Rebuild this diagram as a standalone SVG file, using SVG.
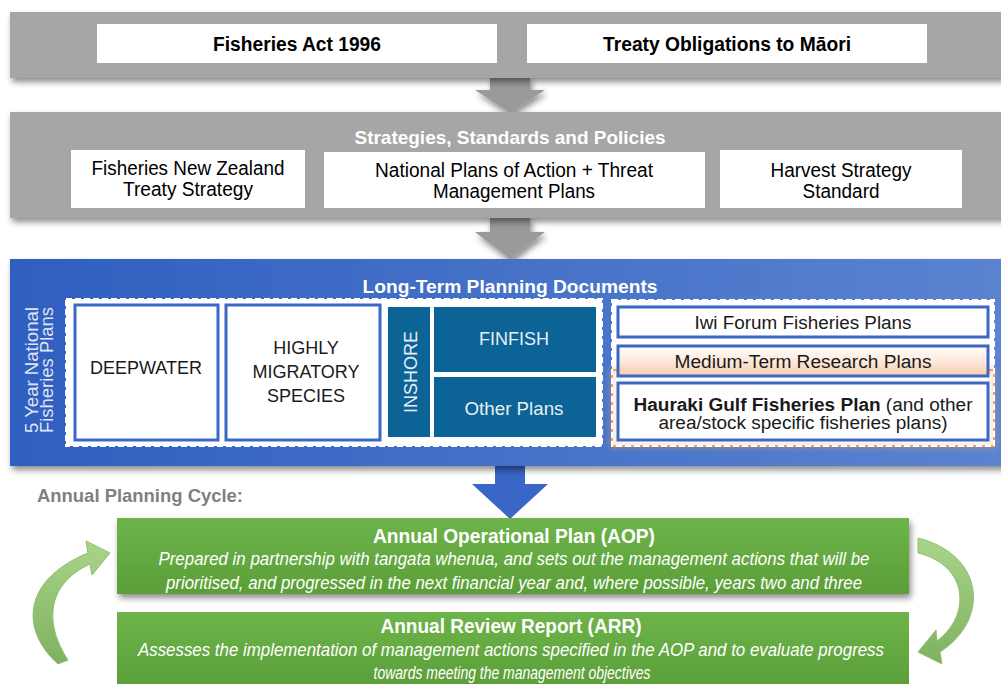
<svg xmlns="http://www.w3.org/2000/svg" width="1001" height="684" viewBox="0 0 1001 684">
<defs>
<filter id="sh" x="-5%" y="-20%" width="110%" height="150%"><feDropShadow dx="2" dy="4" stdDeviation="3" flood-color="#000" flood-opacity="0.45"/></filter>
<filter id="glow" x="-10%" y="-30%" width="120%" height="160%"><feDropShadow dx="0" dy="0" stdDeviation="3" flood-color="#f4a460" flood-opacity="0.9"/></filter>
<linearGradient id="blueG" x1="0" y1="0" x2="1" y2="0"><stop offset="0" stop-color="#2f5fc0"/><stop offset="1" stop-color="#5b83d0"/></linearGradient>
<linearGradient id="greenG" x1="0" y1="0" x2="0" y2="1"><stop offset="0" stop-color="#6db44a"/><stop offset="1" stop-color="#5b9e38"/></linearGradient>
<linearGradient id="peach" x1="0" y1="0" x2="0" y2="1"><stop offset="0" stop-color="#ffffff"/><stop offset="0.5" stop-color="#fde9dc"/><stop offset="1" stop-color="#f8c9a8"/></linearGradient>
<linearGradient id="curveG" x1="0" y1="0" x2="0" y2="1"><stop offset="0" stop-color="#a9d58a"/><stop offset="1" stop-color="#7fb060"/></linearGradient>
<style>
.t{font-family:"Liberation Sans",Arial,sans-serif;}
.wb{fill:#fff;}
.bb{fill:#fff;stroke:#3b68c4;stroke-width:3;}
.dash{fill:#fff;stroke:#fff;stroke-width:2;stroke-dasharray:6 3;}
.teal{fill:#0b6396;}
.gband{fill:#a6a6a6;}
</style>
</defs>

<g id="connectors">
<path id="arrow1" d="M490,76 H530 V90 H545 L510,113 L475,90 H490 Z" fill="#9a9a9a" filter="url(#sh)"/>
<path id="arrow2" d="M490,216 H530 V232 H545 L510,259 L475,232 H490 Z" fill="#9a9a9a" filter="url(#sh)"/>
<path id="arrow3" d="M495,464 H525 V484 H548 L510,519 L472,484 H495 Z" fill="#3a66c8"/>
<path id="cycleLeft" d="M58,664 C20,630 22,580 88,553 L86,541 L110,553 L92,575 L90,564 C45,585 45,625 68,660 Z" fill="url(#curveG)" stroke="#8fbf70" stroke-width="1"/>
<path id="cycleRight" d="M918,538 C985,555 990,620 940,652 L942,664 L918,652 L936,630 L937,641 C972,615 968,565 918,553 Z" fill="url(#curveG)" stroke="#8fbf70" stroke-width="1"/>
</g>

<g id="band-legislation">
<rect x="10" y="12" width="995" height="66" class="gband" filter="url(#sh)"/>
<g id="node-fisheries-act"><rect x="97" y="24" width="400" height="39" class="wb"/>
<text x="297" y="51" text-anchor="middle" class="t" font-size="20" font-weight="bold" textLength="168" lengthAdjust="spacingAndGlyphs">Fisheries Act 1996</text></g>
<g id="node-treaty"><rect x="527" y="24" width="400" height="39" class="wb"/>
<text x="727" y="51" text-anchor="middle" class="t" font-size="20" font-weight="bold" textLength="248" lengthAdjust="spacingAndGlyphs">Treaty Obligations to Māori</text></g>
</g>

<g id="band-strategies">
<rect x="10" y="112" width="995" height="106" class="gband" filter="url(#sh)"/>
<text x="510" y="144" text-anchor="middle" class="t" font-size="19" font-weight="bold" fill="#fff" textLength="311" lengthAdjust="spacingAndGlyphs">Strategies, Standards and Policies</text>
<g id="node-fnz-treaty"><rect x="71" y="150" width="234" height="58" class="wb"/>
<text x="188" y="175" text-anchor="middle" class="t" font-size="20" textLength="193" lengthAdjust="spacingAndGlyphs">Fisheries New Zealand</text>
<text x="188" y="196" text-anchor="middle" class="t" font-size="20" textLength="130" lengthAdjust="spacingAndGlyphs">Treaty Strategy</text></g>
<g id="node-npoa"><rect x="324" y="152" width="381" height="56" class="wb"/>
<text x="514" y="177" text-anchor="middle" class="t" font-size="20" textLength="278" lengthAdjust="spacingAndGlyphs">National Plans of Action + Threat</text>
<text x="514" y="198" text-anchor="middle" class="t" font-size="20" textLength="162" lengthAdjust="spacingAndGlyphs">Management Plans</text></g>
<g id="node-harvest"><rect x="720" y="150" width="242" height="58" class="wb"/>
<text x="841" y="177" text-anchor="middle" class="t" font-size="20" textLength="141" lengthAdjust="spacingAndGlyphs">Harvest Strategy</text>
<text x="841" y="198" text-anchor="middle" class="t" font-size="20" textLength="77" lengthAdjust="spacingAndGlyphs">Standard</text></g>
</g>

<g id="band-longterm">
<rect x="10" y="259" width="995" height="207" fill="url(#blueG)" filter="url(#sh)"/>
<text x="510" y="293" text-anchor="middle" class="t" font-size="19" font-weight="bold" fill="#fff" textLength="295" lengthAdjust="spacingAndGlyphs">Long-Term Planning Documents</text>
<text transform="translate(38,370) rotate(-90)" text-anchor="middle" class="t" font-size="18" fill="#fff" fill-opacity="0.85" textLength="126" lengthAdjust="spacingAndGlyphs">5 Year National</text>
<text transform="translate(53,370) rotate(-90)" text-anchor="middle" class="t" font-size="18" fill="#fff" fill-opacity="0.85" textLength="126" lengthAdjust="spacingAndGlyphs">Fisheries Plans</text>
<rect x="66" y="299" width="536" height="147" class="dash"/>
<g id="node-deepwater"><rect x="75" y="305" width="143" height="135" class="bb"/>
<text x="146" y="374" text-anchor="middle" class="t" font-size="18" fill="#1a1a1a">DEEPWATER</text></g>
<g id="node-hms"><rect x="226" y="305" width="154" height="135" class="bb"/>
<text x="306" y="354" text-anchor="middle" class="t" font-size="18" fill="#1a1a1a">HIGHLY</text>
<text x="306" y="378" text-anchor="middle" class="t" font-size="18" fill="#1a1a1a">MIGRATORY</text>
<text x="306" y="402" text-anchor="middle" class="t" font-size="18" fill="#1a1a1a">SPECIES</text></g>
<g id="node-inshore"><rect x="388" y="307" width="42" height="130" class="teal"/>
<text transform="translate(417,372) rotate(-90)" text-anchor="middle" class="t" font-size="18" fill="#e8eef5">INSHORE</text></g>
<g id="node-finfish"><rect x="434" y="307" width="162" height="65" class="teal"/>
<text x="514" y="345" text-anchor="middle" class="t" font-size="18" fill="#e8eef5">FINFISH</text></g>
<g id="node-other"><rect x="434" y="377" width="162" height="60" class="teal"/>
<text x="514" y="415" text-anchor="middle" class="t" font-size="19" fill="#e8eef5" textLength="99" lengthAdjust="spacingAndGlyphs">Other Plans</text></g>
<rect x="612" y="300" width="382" height="146" class="dash"/>
<rect x="612" y="370" width="382" height="76" fill="none" stroke="#f4a460" stroke-width="2" filter="url(#glow)"/>
<rect x="612" y="300" width="382" height="146" fill="none" stroke="#fff" stroke-width="2" stroke-dasharray="6 3"/>
<g id="node-iwi"><rect x="618" y="307" width="370" height="30" class="bb"/>
<text x="803" y="329" text-anchor="middle" class="t" font-size="18" fill="#1a1a1a" textLength="217" lengthAdjust="spacingAndGlyphs">Iwi Forum Fisheries Plans</text></g>
<g id="node-mtrp"><rect x="618" y="346" width="370" height="30" fill="url(#peach)" stroke="#3b68c4" stroke-width="3"/>
<text x="803" y="368" text-anchor="middle" class="t" font-size="18" fill="#1a1a1a" textLength="257" lengthAdjust="spacingAndGlyphs">Medium-Term Research Plans</text></g>
<g id="node-hauraki"><rect x="618" y="383" width="370" height="57" class="bb"/>
<text x="803" y="411" text-anchor="middle" class="t" font-size="18" fill="#1a1a1a" textLength="339" lengthAdjust="spacingAndGlyphs"><tspan font-weight="bold">Hauraki Gulf Fisheries Plan</tspan> (and other</text>
<text x="803" y="429" text-anchor="middle" class="t" font-size="18" fill="#1a1a1a" textLength="289" lengthAdjust="spacingAndGlyphs">area/stock specific fisheries plans)</text></g>
</g>

<text x="37" y="502" class="t" font-size="19" font-weight="bold" fill="#7f7f7f" textLength="206" lengthAdjust="spacingAndGlyphs">Annual Planning Cycle:</text>

<g id="node-aop">
<rect x="117" y="518" width="792" height="76" fill="url(#greenG)" filter="url(#sh)"/>
<text x="514" y="543" text-anchor="middle" class="t" font-size="20" font-weight="bold" fill="#fff" textLength="282" lengthAdjust="spacingAndGlyphs">Annual Operational Plan (AOP)</text>
<text x="514" y="565" text-anchor="middle" class="t" font-size="18" font-style="italic" fill="#fff" textLength="711" lengthAdjust="spacingAndGlyphs">Prepared in partnership with tangata whenua, and sets out the management actions that will be</text>
<text x="514" y="589" text-anchor="middle" class="t" font-size="18" font-style="italic" fill="#fff" textLength="696" lengthAdjust="spacingAndGlyphs">prioritised, and progressed in the next financial year and, where possible, years two and three</text>
</g>

<g id="node-arr">
<rect x="117" y="612" width="792" height="76" fill="url(#greenG)"/>
<text x="511" y="633" text-anchor="middle" class="t" font-size="20" font-weight="bold" fill="#fff" textLength="261" lengthAdjust="spacingAndGlyphs">Annual Review Report (ARR)</text>
<text x="511" y="656" text-anchor="middle" class="t" font-size="18" font-style="italic" fill="#fff" textLength="746" lengthAdjust="spacingAndGlyphs">Assesses the implementation of management actions specified in the AOP and to evaluate progress</text>
<text x="512" y="679" text-anchor="middle" class="t" font-size="18" font-style="italic" fill="#fff" textLength="277" lengthAdjust="spacingAndGlyphs">towards meeting the management objectives</text>
</g>
</svg>
